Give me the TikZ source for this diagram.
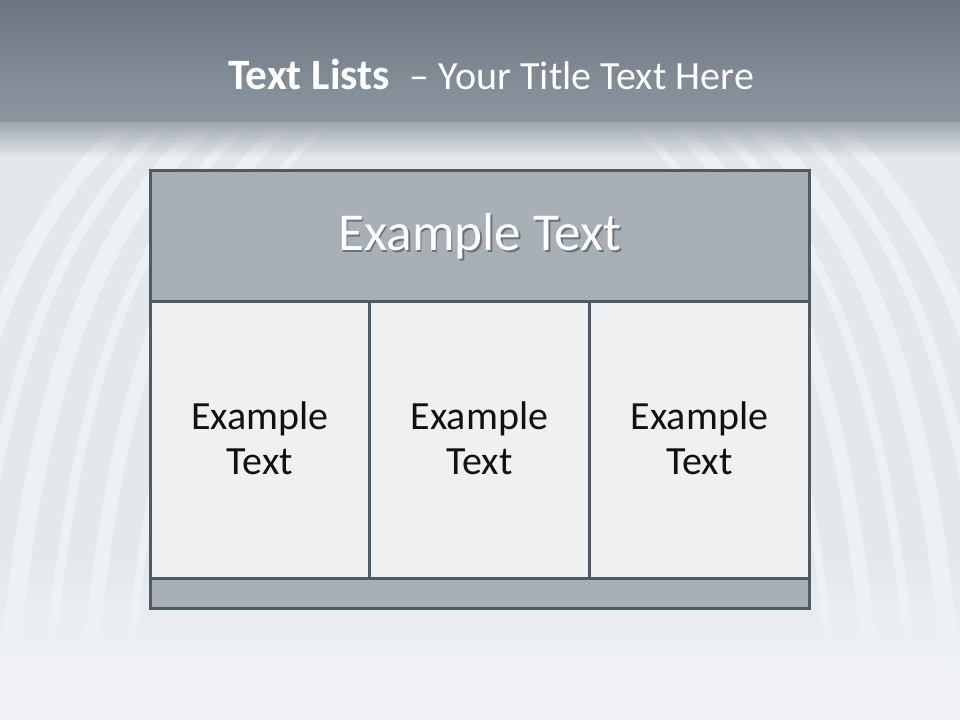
\documentclass[tikz,border=0pt]{standalone}
\usepackage{fontspec}
\setmainfont{Carlito}
\usetikzlibrary{positioning, calc}
\definecolor{cframe}{HTML}{505A63}
\definecolor{chead}{HTML}{A7B0B7}
\definecolor{ccell}{HTML}{EEF0F2}
\definecolor{ctop}{HTML}{6C7680}
\definecolor{cband}{HTML}{8C97A1}
\definecolor{cback}{HTML}{E4E8EB}
\definecolor{cfloor}{HTML}{EFF1F4}
\definecolor{ctext}{HTML}{111111}
\tikzset{
  every picture/.style={font=\rmfamily},
  panel/.style={draw=cframe, fill=#1, line width=2.3pt, inner sep=0pt, anchor=north west},
  panel/.default=ccell,
  celltext/.style={font=\fontsize{30}{34}\selectfont, text=ctext, align=center},
  headtext/.style={font=\fontsize{40}{46}\selectfont, text=white},
  titletext/.style={font=\fontsize{30}{36}\selectfont, text=white, inner sep=0pt, anchor=base west},
  stripe/.style={draw=white, line width=#1, opacity=0.4, line cap=round},
  stripe/.default=10pt,
}
\begin{document}
\begin{tikzpicture}[x=0.75pt, y=-0.75pt]
  \useasboundingbox (0,0) rectangle (960,720);
  % background
  \fill[cback] (0,0) rectangle (960,720);
  \begin{scope}
    \clip (0,110) rectangle (960,660);
    \foreach \i/\w in {0/12pt, 1/8pt, 2/14pt, 3/7pt, 4/11pt, 5/6pt} {
      \draw[stripe=\w] (\i*40-70,660) .. controls (\i*40-40,330) and (\i*40+40,200) .. (\i*40+140,110);
      \draw[stripe=\w] (1030-\i*40,660) .. controls (1000-\i*40,330) and (920-\i*40,200) .. (820-\i*40,110);
    }
  \end{scope}
  \fill[top color=ctop, bottom color=cband] (0,0) rectangle (960,122);
  \foreach \k in {0,...,13}
    \fill[cband!80!cback, opacity={1-\k/14}] (0,{122+\k*2.5}) rectangle (960,{124.5+\k*2.5});
  \foreach \k in {0,...,19}
    \fill[cfloor, opacity={\k/20}] (0,{540+\k*6}) rectangle (960,{546+\k*6});
  \fill[cfloor] (0,660) rectangle (960,720);
  % title
  \node[titletext] (title) at (228,89.5) {\fontsize{32.5}{36}\selectfont\bfseries Text Lists\hspace{15pt}\mdseries\fontsize{30}{36}\selectfont– Your Title Text Here};
  % table
  \node[panel=chead, minimum width=659*0.75pt, minimum height=131*0.75pt] (head) at (149,169) {};
  \node[panel, minimum width=219*0.75pt, minimum height=277*0.75pt] (c1) at (149,300) {};
  \node[panel, minimum width=220*0.75pt, minimum height=277*0.75pt] (c2) at (368,300) {};
  \node[panel, minimum width=220*0.75pt, minimum height=277*0.75pt] (c3) at (588,300) {};
  \node[panel=chead, minimum width=659*0.75pt, minimum height=30*0.75pt] (foot) at (149,577) {};
  \node[headtext, text=black, opacity=0.35] at ($(head.center)+(1.5,2)$) {Example Text};
  \node[headtext] (headlabel) at (head.center) {Example Text};
  \node[celltext] (t1) at ($(c1.center)+(0,-2)$) {Example\\Text};
  \node[celltext] (t2) at ($(c2.center)+(0,-2)$) {Example\\Text};
  \node[celltext] (t3) at ($(c3.center)+(0,-2)$) {Example\\Text};
\end{tikzpicture}
\end{document}
